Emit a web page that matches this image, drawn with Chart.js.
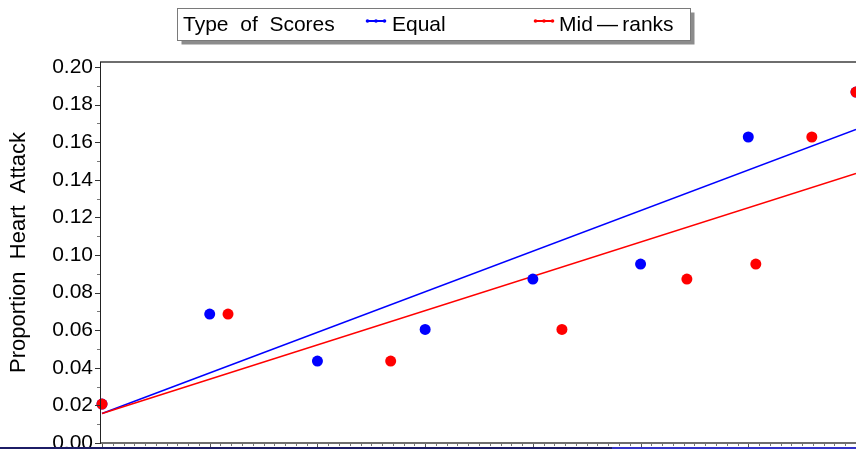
<!DOCTYPE html>
<html>
<head>
<meta charset="utf-8">
<script src="https://cdn.jsdelivr.net/npm/chart.js@4/dist/chart.umd.min.js"></script>
<style>
html,body{margin:0;padding:0;background:#fff;overflow:hidden}
#wrap{position:relative;width:856px;height:449px}
canvas{display:block}
</style>
</head>
<body>
<div id="wrap"><canvas id="c" width="856" height="449"></canvas></div>
<script>
// ---- data ----
const propHeartAttack = [0.0207, 0.0686, 0.0436, 0.0604, 0.0872, 0.0952, 0.1628, 0.1867];
const equalScores     = [0, 1, 2, 3, 4, 5, 6, 7];
const midRankScores   = [0, 1.17, 2.68, 4.27, 5.43, 6.07, 6.59, 7];
const fitX            = [0, 7];
const equalFitY       = [0.0157, 0.1668];
const midRankFitY     = [0.0157, 0.1434];
const yTickValues     = [0, 0.02, 0.04, 0.06, 0.08, 0.10, 0.12, 0.14, 0.16, 0.18, 0.20];
const xMajorTicks     = [0, 1, 2, 3, 4, 5, 6, 7];
const yTitle          = 'Proportion  Heart  Attack';
const legendTitle     = 'Type  of  Scores';
const seriesNames     = ['Equal', 'Mid\u2009\u2014\u2009ranks'];

const BLUE = '#0000ff', RED = '#ff0000';
const FONT = '"Liberation Sans", Arial, sans-serif';

const pts = (xs, ys) => xs.map((x, i) => ({x: x, y: ys[i]}));

const framePlugin = {
  id: 'frame',
  afterDatasetsDraw(chart) {
    const ctx = chart.ctx, a = chart.chartArea;
    const xs = chart.scales.x, ys = chart.scales.y;
    ctx.save();
    // x minor/major ticks
    for (let k = 0; k <= 70; k++) {
      const v = k / 10;
      const px = Math.round(xs.getPixelForValue(v)) + 0.5;
      const major = k % 10 === 0;
      ctx.strokeStyle = major ? '#555' : '#777';
      ctx.lineWidth = 1;
      ctx.beginPath();
      ctx.moveTo(px, a.bottom);
      ctx.lineTo(px, a.bottom + (major ? 6 : 3));
      ctx.stroke();
    }
    // y ticks
    for (let k = 0; k <= 20; k++) {
      const v = k / 100;
      const py = Math.round(ys.getPixelForValue(v)) + 0.5;
      const major = k % 2 === 0;
      ctx.strokeStyle = major ? '#333' : '#777';
      ctx.beginPath();
      ctx.moveTo(a.left, py);
      ctx.lineTo(a.left - (major ? 5 : 3), py);
      ctx.stroke();
    }
    // top frame
    ctx.strokeStyle = '#6e6e6e';
    ctx.lineWidth = 2;
    ctx.beginPath(); ctx.moveTo(a.left, a.top); ctx.lineTo(a.right, a.top); ctx.stroke();
    // bottom axis
    ctx.beginPath(); ctx.moveTo(a.left, a.bottom); ctx.lineTo(a.right, a.bottom); ctx.stroke();
    // left axis
    ctx.strokeStyle = '#222';
    ctx.lineWidth = 1;
    ctx.beginPath(); ctx.moveTo(a.left + 0.5, a.top); ctx.lineTo(a.left + 0.5, a.bottom + 1); ctx.stroke();
    ctx.restore();
  },
  afterDraw(chart) {
    const ctx = chart.ctx;
    ctx.save();
    // bottom stripe
    ctx.fillStyle = '#1c1c66'; ctx.fillRect(0, 447, 612, 2);
    ctx.fillStyle = '#3434c8'; ctx.fillRect(612, 447, 244, 2);
    // legend box with shadow
    const bx = 177.5, by = 8.5, bw = 513, bh = 32;
    ctx.fillStyle = '#8c8c8c';
    ctx.fillRect(bx + 4, by + 4, bw, bh);
    ctx.fillStyle = '#fff';
    ctx.fillRect(bx, by, bw, bh);
    ctx.strokeStyle = '#7a7a7a'; ctx.lineWidth = 1;
    ctx.strokeRect(bx, by, bw, bh);
    ctx.fillStyle = '#000';
    ctx.font = '21px ' + FONT;
    ctx.textBaseline = 'alphabetic';
    ctx.fillText(legendTitle, 183, 31);
    const marker = (x0, color) => {
      ctx.strokeStyle = color; ctx.fillStyle = color; ctx.lineWidth = 2;
      ctx.beginPath(); ctx.moveTo(x0, 21); ctx.lineTo(x0 + 20, 21); ctx.stroke();
      [1.5, 10, 18.5].forEach(d => { ctx.beginPath(); ctx.arc(x0 + d, 21, 1.8, 0, Math.PI * 2); ctx.fill(); });
    };
    marker(366, BLUE);
    ctx.fillStyle = '#000';
    ctx.fillText(seriesNames[0], 392, 31);
    marker(534, RED);
    ctx.fillStyle = '#000';
    ctx.fillText(seriesNames[1], 559, 31);
    ctx.restore();
  }
};

new Chart(document.getElementById('c'), {
  type: 'scatter',
  data: {
    datasets: [
      { label: seriesNames[1], data: pts(midRankScores, propHeartAttack), backgroundColor: RED, borderColor: RED,
        pointRadius: 5.5, pointBorderWidth: 0, showLine: false, order: 0, clip: false },
      { label: seriesNames[0], data: pts(equalScores, propHeartAttack), backgroundColor: BLUE, borderColor: BLUE,
        pointRadius: 5.5, pointBorderWidth: 0, showLine: false, order: 1, clip: false },
      { label: seriesNames[1] + ' fit', type: 'line', data: pts(fitX, midRankFitY), borderColor: RED, borderWidth: 1.5,
        pointRadius: 0, fill: false, order: 2 },
      { label: seriesNames[0] + ' fit', type: 'line', data: pts(fitX, equalFitY), borderColor: BLUE, borderWidth: 1.5,
        pointRadius: 0, fill: false, order: 3 }
    ]
  },
  options: {
    responsive: false,
    animation: false,
    events: [],
    layout: { autoPadding: false, padding: { top: 62, left: 0, right: 0, bottom: 0 } },
    plugins: { legend: { display: false }, tooltip: { enabled: false } },
    scales: {
      x: {
        type: 'linear', min: -0.0186, max: 7,
        ticks: { display: false },
        grid: { display: false },
        border: { display: false },
        afterBuildTicks: s => { s.ticks = xMajorTicks.map(v => ({value: v})); },
        afterFit: s => { s.height = 6; s.paddingLeft = 0; s.paddingRight = 0; }
      },
      y: {
        type: 'linear', min: 0, max: 0.2027,
        afterBuildTicks: s => { s.ticks = yTickValues.map(v => ({value: v})); },
        afterFit: s => { s.width = 100; s.paddingTop = 0; s.paddingBottom = 0; },
        ticks: { color: '#000', padding: 7, font: { family: FONT, size: 21 }, callback: v => Number(v).toFixed(2) },
        grid: { display: false, drawTicks: false },
        border: { display: false },
        title: { display: true, text: yTitle, color: '#000', font: { family: FONT, size: 22 }, padding: { top: 6, bottom: 0 } }
      }
    }
  },
  plugins: [framePlugin]
});
</script>
</body>
</html>
